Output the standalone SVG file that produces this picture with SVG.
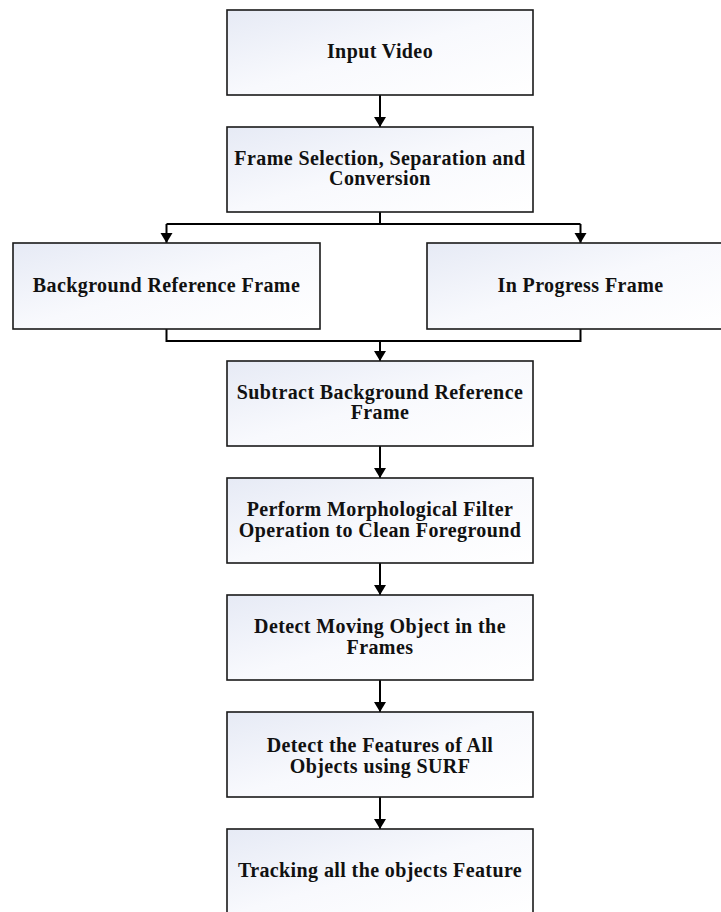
<svg xmlns="http://www.w3.org/2000/svg" width="721" height="912" viewBox="0 0 721 912">
<defs>
<linearGradient id="g" x1="0" y1="0" x2="1" y2="1">
<stop offset="0" stop-color="#e6eaf5"/>
<stop offset="0.5" stop-color="#f8f9fd"/>
<stop offset="1" stop-color="#ffffff"/>
</linearGradient>
<style>
.box{fill:url(#g);stroke:#1a1a1a;stroke-width:1.6}
.t{font-family:"Liberation Serif","Times New Roman",serif;font-weight:bold;font-size:20px;letter-spacing:0.4px;text-anchor:middle;fill:#111}
.c{fill:none;stroke:#000;stroke-width:2}
</style>
</defs>
<rect width="721" height="912" fill="#fff"/>
<g id="connectors">
<path class="c" d="M380,95 V127"/>
<path class="c" d="M380,212 V224 M166.5,224 H580.5"/>
<path class="c" d="M166.5,224 V243"/>
<path class="c" d="M580.5,224 V243"/>
<path class="c" d="M166.5,329 V341 H580.5 V329 M380,341 V361"/>
<path class="c" d="M380,446 V478"/>
<path class="c" d="M380,563 V595"/>
<path class="c" d="M380,680 V712"/>
<path class="c" d="M380,797 V829"/>
<g fill="#000">
<path d="M374,117 L386,117 L380,127 Z"/>
<path d="M160.5,233 L172.5,233 L166.5,243 Z"/>
<path d="M574.5,233 L586.5,233 L580.5,243 Z"/>
<path d="M374,351 L386,351 L380,361 Z"/>
<path d="M374,468 L386,468 L380,478 Z"/>
<path d="M374,585 L386,585 L380,595 Z"/>
<path d="M374,702 L386,702 L380,712 Z"/>
<path d="M374,819 L386,819 L380,829 Z"/>
</g>
</g>
<g id="n1"><rect class="box" x="227" y="10" width="306" height="85"/><text class="t" x="380" y="58">Input Video</text></g>
<g id="n2"><rect class="box" x="227" y="127" width="306" height="85"/><text class="t" x="380" y="165">Frame Selection, Separation and</text><text class="t" x="380" y="185">Conversion</text></g>
<g id="n3"><rect class="box" x="13" y="243" width="307" height="86"/><text class="t" x="166.5" y="291.5">Background Reference Frame</text></g>
<g id="n4"><rect class="box" x="427" y="243" width="296" height="86"/><text class="t" x="580.5" y="291.5">In Progress Frame</text></g>
<g id="n5"><rect class="box" x="227" y="361" width="306" height="85"/><text class="t" x="380" y="399">Subtract Background Reference</text><text class="t" x="380" y="419">Frame</text></g>
<g id="n6"><rect class="box" x="227" y="478" width="306" height="85"/><text class="t" x="380" y="516">Perform Morphological Filter</text><text class="t" x="380" y="537">Operation to Clean Foreground</text></g>
<g id="n7"><rect class="box" x="227" y="595" width="306" height="85"/><text class="t" x="380" y="633">Detect Moving Object in the</text><text class="t" x="380" y="654">Frames</text></g>
<g id="n8"><rect class="box" x="227" y="712" width="306" height="85"/><text class="t" x="380" y="752">Detect the Features of All</text><text class="t" x="380" y="773">Objects using SURF</text></g>
<g id="n9"><rect class="box" x="227" y="829" width="306" height="86"/><text class="t" x="380" y="877">Tracking all the objects Feature</text></g>
</svg>
